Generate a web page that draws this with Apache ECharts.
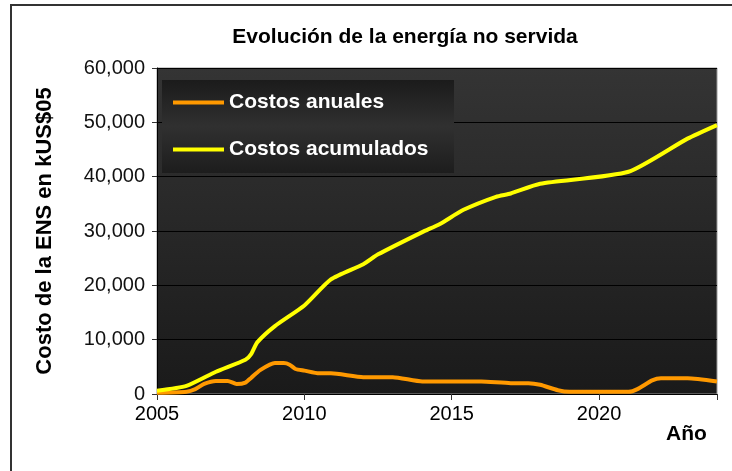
<!DOCTYPE html>
<html>
<head>
<meta charset="utf-8">
<script src="https://cdn.jsdelivr.net/npm/echarts@6/dist/echarts.min.js"></script>
<style>
  html, body { margin: 0; padding: 0; background: #fff; }
  #main { width: 732px; height: 471px; }
</style>
</head>
<body>
<div id="main"></div>
<script>
// datos
const annualYears = [2005, 2006, 2006.3, 2006.6, 2007, 2007.4, 2007.7, 2008, 2008.2, 2008.5, 2009, 2009.3, 2009.5, 2009.7, 2010, 2010.5, 2010.9, 2012, 2013, 2014, 2016, 2017, 2017.6, 2018, 2018.6, 2019, 2021, 2021.3, 2021.8, 2022.1, 2023, 2024]
const annualCosts = [250, 430, 900, 1850, 2400, 2400, 1850, 2100, 3000, 4400, 5700, 5700, 5400, 4600, 4300, 3800, 3800, 3100, 3100, 2300, 2300, 2000, 2000, 1700, 700, 400, 400, 900, 2500, 2900, 2900, 2300]
const cumYears = [2005, 2006, 2007, 2008, 2008.2, 2008.4, 2009, 2010, 2010.9, 2012, 2012.5, 2014, 2014.6, 2015.4, 2016.5, 2017, 2018, 2021, 2023, 2024]
const cumCosts = [600, 1500, 4100, 6300, 7400, 9500, 12500, 16300, 21100, 23900, 25700, 29800, 31300, 33900, 36300, 36900, 38700, 40900, 47000, 49500]
const seriesNames = ['Costos anuales', 'Costos acumulados']
const yTicks = [0, 10000, 20000, 30000, 40000, 50000, 60000]

const FONT = 'Liberation Sans, Arial, sans-serif'

function pairs(xs, ys) {
  const out = []
  for (let i = 0; i < xs.length; i++) {
    out.push([xs[i], ys[i]])
  }
  return out
}

const chart = echarts.init(document.getElementById('main'))

let option = {
  backgroundColor: '#fff',
  animation: false,
  title: {
    text: 'Evolución de la energía no servida',
    left: 400,
    top: 22,
    textAlign: 'center',
    textStyle: { fontFamily: FONT, fontSize: 21, fontWeight: 'bold', color: '#000' }
  },
  grid: {
    left: 157,
    right: 15,
    top: 68,
    bottom: 77,
    show: true,
    borderColor: '#999',
    borderWidth: 1,
    backgroundColor: new echarts.graphic.LinearGradient(0, 0, 0, 1, [
      { offset: 0, color: '#343434' },
      { offset: 1, color: '#1a1a1a' }
    ])
  },
  legend: {
    data: seriesNames,
    orient: 'vertical',
    left: 168,
    top: 87,
    itemWidth: 51,
    itemHeight: 4,
    itemGap: 26,
    icon: 'rect',
    textStyle: { fontFamily: FONT, fontSize: 21, fontWeight: 'bold', color: '#fff', lineHeight: 20 }
  },
  xAxis: {
    type: 'value',
    min: 2005,
    max: 2024,
    interval: 5,
    axisLine: { show: true, lineStyle: { color: '#000', width: 1 } },
    axisTick: { show: true, length: 6, lineStyle: { color: '#333' } },
    axisLabel: {
      fontFamily: FONT, fontSize: 20, color: '#000', margin: 10,
      formatter: v => (v % 5 === 0 && v < 2024) ? String(v) : ''
    },
    splitLine: { show: false }
  },
  yAxis: {
    type: 'value',
    min: yTicks[0],
    max: yTicks[yTicks.length - 1],
    interval: 10000,
    name: 'Costo de la ENS en kUS$05',
    nameLocation: 'middle',
    nameGap: 101,
    nameTextStyle: { fontFamily: FONT, fontSize: 22, fontWeight: 'bold', color: '#000' },
    axisLine: { show: true, lineStyle: { color: '#000', width: 1 } },
    axisTick: { show: true, length: 5, lineStyle: { color: '#333' } },
    axisLabel: {
      fontFamily: FONT, fontSize: 20, color: '#111', margin: 12,
      formatter: v => v.toLocaleString('en-US')
    },
    splitLine: { show: true, lineStyle: { color: '#000', width: 1 } }
  },
  graphic: [
    {
      type: 'rect',
      z: 3,
      shape: { x: 11, y: 5, width: 740, height: 490 },
      style: { fill: 'none', stroke: '#333', lineWidth: 2 }
    },
    {
      type: 'rect',
      z: 3,
      shape: { x: 162, y: 80, width: 292, height: 93 },
      style: {
        fill: new echarts.graphic.LinearGradient(0, 0, 0, 1, [
          { offset: 0, color: '#1b1b1b' },
          { offset: 0.5, color: '#303030' },
          { offset: 1, color: '#1d1d1d' }
        ])
      }
    },
    {
      type: 'text',
      left: 666,
      top: 424,
      style: { text: 'Año', fontFamily: FONT, fontSize: 21, fontWeight: 'bold', fill: '#000' }
    }
  ],
  series: [
    {
      name: seriesNames[0],
      type: 'line',
      data: pairs(annualYears, annualCosts),
      showSymbol: false,
      smooth: 0.2,
      lineStyle: { color: '#ff9900', width: 4 },
      itemStyle: { color: '#ff9900' }
    },
    {
      name: seriesNames[1],
      type: 'line',
      data: pairs(cumYears, cumCosts),
      showSymbol: false,
      smooth: 0.2,
      lineStyle: { color: '#ffff00', width: 4 },
      itemStyle: { color: '#ffff00' }
    }
  ]
}

chart.setOption(option)
</script>
</body>
</html>
